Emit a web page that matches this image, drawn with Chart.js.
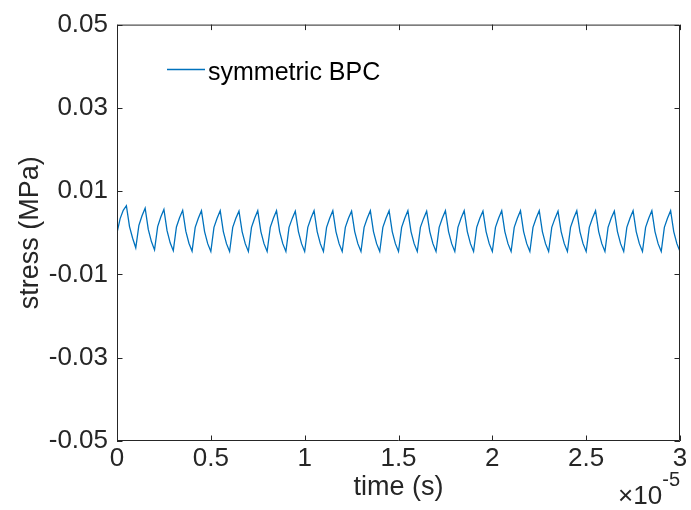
<!DOCTYPE html>
<html>
<head>
<meta charset="utf-8">
<script src="https://cdn.jsdelivr.net/npm/chart.js@4.4.1/dist/chart.umd.min.js"></script>
<style>
  html, body { margin: 0; padding: 0; background: #fff; }
  canvas { display: block; }
</style>
</head>
<body>
<canvas id="stressChart" width="691" height="510"></canvas>
<script>
// stress samples, one every 1/6 microsecond from t = 0 to t = 30 us
const sampleStep = 1e-6 / 6;
const stress = [
  0.0000, 0.0034, 0.0054, 0.0065, 0.0015, -0.0013, -0.0036,
  0.0018, 0.0041, 0.0059, 0.0008, -0.0021, -0.0041,
  0.0015, 0.0038, 0.0056, 0.0005, -0.0024, -0.0043,
  0.0014, 0.0036, 0.0054, 0.0004, -0.0025, -0.0044,
  0.0013, 0.0035, 0.0053, 0.0003, -0.0026, -0.0045,
  0.0013, 0.0035, 0.0053, 0.0003, -0.0026, -0.0045,
  0.0013, 0.0035, 0.0052, 0.0003, -0.0026, -0.0045,
  0.0013, 0.0035, 0.0053, 0.0003, -0.0026, -0.0045,
  0.0013, 0.0035, 0.0053, 0.0003, -0.0026, -0.0045,
  0.0013, 0.0034, 0.0052, 0.0003, -0.0026, -0.0045,
  0.0013, 0.0035, 0.0053, 0.0003, -0.0026, -0.0045,
  0.0013, 0.0035, 0.0053, 0.0003, -0.0026, -0.0045,
  0.0013, 0.0035, 0.0052, 0.0003, -0.0026, -0.0045,
  0.0013, 0.0035, 0.0053, 0.0003, -0.0026, -0.0045,
  0.0013, 0.0035, 0.0053, 0.0003, -0.0026, -0.0045,
  0.0013, 0.0035, 0.0053, 0.0003, -0.0026, -0.0045,
  0.0013, 0.0034, 0.0052, 0.0003, -0.0026, -0.0045,
  0.0013, 0.0035, 0.0053, 0.0003, -0.0026, -0.0045,
  0.0013, 0.0035, 0.0053, 0.0003, -0.0026, -0.0045,
  0.0013, 0.0035, 0.0052, 0.0003, -0.0026, -0.0045,
  0.0013, 0.0035, 0.0053, 0.0003, -0.0026, -0.0045,
  0.0013, 0.0035, 0.0053, 0.0003, -0.0026, -0.0045,
  0.0013, 0.0035, 0.0053, 0.0003, -0.0026, -0.0045,
  0.0013, 0.0034, 0.0052, 0.0003, -0.0026, -0.0045,
  0.0013, 0.0035, 0.0053, 0.0003, -0.0026, -0.0045,
  0.0013, 0.0035, 0.0053, 0.0003, -0.0026, -0.0045,
  0.0013, 0.0035, 0.0052, 0.0003, -0.0026, -0.0045,
  0.0013, 0.0035, 0.0053, 0.0003, -0.0026, -0.0045,
  0.0013, 0.0035, 0.0053, 0.0003, -0.0026, -0.0045,
  0.0013, 0.0035, 0.0053, 0.0003, -0.0026, -0.0045
];

const seriesLabel = 'symmetric BPC';
const xTicks = [0, 0.5e-5, 1e-5, 1.5e-5, 2e-5, 2.5e-5, 3e-5];
const xTickLabels = ['0', '0.5', '1', '1.5', '2', '2.5', '3'];
const yTicks = [-0.05, -0.03, -0.01, 0.01, 0.03, 0.05];
const yTickLabels = ['-0.05', '-0.03', '-0.01', '0.01', '0.03', '0.05'];

const axisColor = '#262626';
const lineColor = '#0072BD';
const fontFamily = '"Liberation Sans", Arial, Helvetica, sans-serif';

const points = stress.map((v, i) => ({ x: i * sampleStep, y: v }));

// box round the axes with inward ticks on all four sides
const axesBox = {
  id: 'axesBox',
  afterDraw(chart) {
    const { ctx, chartArea: a, scales: { x, y } } = chart;
    const len = 5.5;
    ctx.save();
    ctx.strokeStyle = axisColor;
    ctx.lineWidth = 1;
    ctx.beginPath();
    ctx.rect(a.left + 0.5, a.top + 0.5, a.right - a.left - 1, a.bottom - a.top - 1);
    xTicks.forEach(v => {
      const px = Math.round(x.getPixelForValue(v)) + 0.5;
      ctx.moveTo(px, a.bottom);
      ctx.lineTo(px, a.bottom - len);
      ctx.moveTo(px, a.top);
      ctx.lineTo(px, a.top + len);
    });
    yTicks.forEach(v => {
      const py = Math.round(y.getPixelForValue(v)) + 0.5;
      ctx.moveTo(a.left, py);
      ctx.lineTo(a.left + len, py);
      ctx.moveTo(a.right, py);
      ctx.lineTo(a.right - len, py);
    });
    ctx.stroke();

    // exponent of the time axis
    ctx.fillStyle = axisColor;
    ctx.textBaseline = 'alphabetic';
    ctx.textAlign = 'right';
    ctx.font = '20px ' + fontFamily;
    ctx.fillText('-5', 680, 486);
    const supW = ctx.measureText('-5').width;
    ctx.font = '26px ' + fontFamily;
    ctx.fillText('\u00d710', 680 - supW, 504);
    ctx.restore();
  }
};

// legend without a box, inside the top left of the axes
const insideLegend = {
  id: 'insideLegend',
  afterDraw(chart) {
    const { ctx } = chart;
    const ds = chart.data.datasets[0];
    ctx.save();
    ctx.strokeStyle = ds.borderColor;
    ctx.lineWidth = 1.3;
    ctx.beginPath();
    ctx.moveTo(167, 69.5);
    ctx.lineTo(205, 69.5);
    ctx.stroke();
    ctx.fillStyle = '#000';
    ctx.font = '25px ' + fontFamily;
    ctx.textBaseline = 'alphabetic';
    ctx.textAlign = 'left';
    ctx.fillText(ds.label, 208, 80);
    ctx.restore();
  }
};

new Chart(document.getElementById('stressChart'), {
  type: 'line',
  data: {
    datasets: [{
      label: seriesLabel,
      data: points,
      borderColor: lineColor,
      borderWidth: 1.3,
      pointRadius: 0,
      tension: 0,
      fill: false
    }]
  },
  options: {
    responsive: false,
    animation: false,
    devicePixelRatio: 1,
    layout: { padding: { top: 22, right: 11, left: 0, bottom: 0 } },
    plugins: {
      legend: { display: false },
      tooltip: { enabled: false }
    },
    scales: {
      x: {
        type: 'linear',
        min: 0,
        max: 3e-5,
        grid: { display: false, drawTicks: false },
        border: { display: false },
        afterBuildTicks: s => { s.ticks = xTicks.map(v => ({ value: v })); },
        afterFit: s => { s.height = 69; },
        ticks: {
          autoSkip: false,
          maxRotation: 0,
          padding: 2,
          color: axisColor,
          font: { family: fontFamily, size: 26 },
          callback: (v, i) => xTickLabels[i]
        },
        title: {
          display: true,
          text: 'time (s)',
          color: axisColor,
          font: { family: fontFamily, size: 27 },
          padding: { top: 0, bottom: 6 }
        }
      },
      y: {
        min: -0.05,
        max: 0.05,
        grid: { display: false, drawTicks: false },
        border: { display: false },
        afterBuildTicks: s => { s.ticks = yTicks.map(v => ({ value: v })); },
        afterFit: s => { s.width = 117; },
        ticks: {
          padding: 9,
          color: axisColor,
          font: { family: fontFamily, size: 26 },
          callback: (v, i) => yTickLabels[i]
        },
        title: {
          display: true,
          text: 'stress (MPa)',
          color: axisColor,
          font: { family: fontFamily, size: 27 },
          padding: { top: 14, bottom: 0 }
        }
      }
    }
  },
  plugins: [axesBox, insideLegend]
});
</script>
</body>
</html>
